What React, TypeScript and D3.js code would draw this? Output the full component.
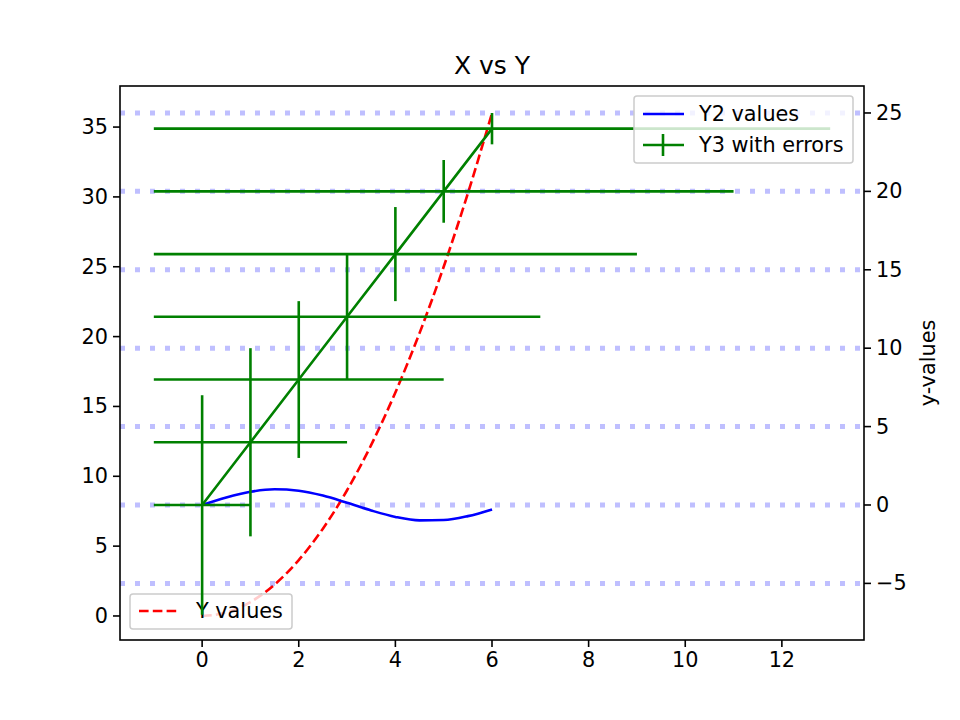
import * as React from 'react'
import * as d3 from 'd3'

// red dashed, left axis
const yX = [0, 0.5, 1, 1.5, 2, 2.5, 3, 3.5, 4, 4.5, 5, 5.5, 6]
const yVals = [0, 0.25, 1, 2.25, 4, 6.25, 9, 12.25, 16, 20.25, 25, 30.25, 36]
// blue, right axis
const y2X = [0, 0.5, 1, 1.5, 2, 2.5, 3, 3.5, 4, 4.5, 5, 5.5, 6]
const y2Vals = [0, 0.48, 0.84, 1.0, 0.91, 0.6, 0.14, -0.35, -0.76, -0.98, -0.96, -0.71, -0.28]
// green with errors, right axis
const y3X = [0, 1, 2, 3, 4, 5, 6]
const y3Vals = [0, 4, 8, 12, 16, 20, 24]
const y3Err = [7, 6, 5, 4, 3, 2, 1]
const x3Err = [1, 2, 3, 4, 5, 6, 7]

const xTicks = [0, 2, 4, 6, 8, 10, 12]
const yTicks = [0, 5, 10, 15, 20, 25, 30, 35]
const y2Ticks = [-5, 0, 5, 10, 15, 20, 25]

const L = 120, R = 864, T = 86, B = 640
const font = 'DejaVu Sans, sans-serif'
const fs = 20.8
const lw = 2.6

export default function App() {
  const x = d3.scaleLinear().domain([-1.7, 13.7]).range([L, R])
  const y = d3.scaleLinear().domain([-1.72, 37.94]).range([B, T])
  const y2 = d3.scaleLinear().domain([-8.61, 26.72]).range([B, T])
  const redLine = d3.line<number>().x((_, i) => x(yX[i])).y(d => y(d)).curve(d3.curveMonotoneX)
  const blueLine = d3.line<number>().x((_, i) => x(y2X[i])).y(d => y2(d)).curve(d3.curveMonotoneX)
  const greenLine = d3.line<number>().x((_, i) => x(y3X[i])).y(d => y2(d))
  const green = '#008000'
  return (
    <svg width={960} height={720} style={{ display: 'block', margin: -8 }} fontFamily={font}>
      <rect width={960} height={720} fill="#fff" />
      <path d={redLine(yVals)!} fill="none" stroke="red" strokeWidth={lw} strokeDasharray="9.6,4.2" />
      {/* lower-left legend (ax1) */}
      <g>
        <rect x={130} y={594} width={162} height={35} rx={3} fill="#fff" fillOpacity={0.8} stroke="#ccc" strokeWidth={1.5} />
        <line x1={139} x2={180} y1={611} y2={611} stroke="red" strokeWidth={lw} strokeDasharray="9.6,4.2" />
        <text x={196} y={618} fontSize={fs}>Y values</text>
      </g>
      {/* right-axis grid */}
      {y2Ticks.map(t => (
        <line key={t} x1={L} x2={R} y1={y2(t)} y2={y2(t)} stroke="blue" strokeOpacity={0.25} strokeWidth={5} strokeDasharray="5,10" />
      ))}
      <path d={blueLine(y2Vals)!} fill="none" stroke="blue" strokeWidth={lw} />
      {y3X.map((v, i) => (
        <g key={i} stroke={green} strokeWidth={lw}>
          <line x1={x(v - x3Err[i])} x2={x(v + x3Err[i])} y1={y2(y3Vals[i])} y2={y2(y3Vals[i])} />
          <line x1={x(v)} x2={x(v)} y1={y2(y3Vals[i] - y3Err[i])} y2={y2(y3Vals[i] + y3Err[i])} />
        </g>
      ))}
      <path d={greenLine(y3Vals)!} fill="none" stroke={green} strokeWidth={lw} />
      {/* frame */}
      <rect x={L} y={T} width={R - L} height={B - T} fill="none" stroke="#000" strokeWidth={1.6} />
      {xTicks.map(t => (
        <g key={t}>
          <line x1={x(t)} x2={x(t)} y1={B} y2={B + 7} stroke="#000" strokeWidth={1.6} />
          <text x={x(t)} y={B + 27} fontSize={fs} textAnchor="middle">{t}</text>
        </g>
      ))}
      {yTicks.map(t => (
        <g key={t}>
          <line x1={L - 7} x2={L} y1={y(t)} y2={y(t)} stroke="#000" strokeWidth={1.6} />
          <text x={L - 12} y={y(t) + 7} fontSize={fs} textAnchor="end">{t}</text>
        </g>
      ))}
      {y2Ticks.map(t => (
        <g key={t}>
          <line x1={R} x2={R + 7} y1={y2(t)} y2={y2(t)} stroke="#000" strokeWidth={1.6} />
          <text x={R + 12} y={y2(t) + 7} fontSize={fs}>{t < 0 ? '\u2212' + -t : t}</text>
        </g>
      ))}
      <text x={935} y={363} fontSize={fs} textAnchor="middle" transform="rotate(-90 935 363)">y-values</text>
      <text x={492} y={74} fontSize={25} textAnchor="middle">X vs Y</text>
      {/* upper-right legend (ax2) */}
      <g>
        <rect x={634} y={96} width={219} height={67} rx={3} fill="#fff" fillOpacity={0.8} stroke="#ccc" strokeWidth={1.5} />
        <line x1={643} x2={684} y1={114} y2={114} stroke="blue" strokeWidth={lw} />
        <text x={699} y={121} fontSize={fs}>Y2 values</text>
        <line x1={643} x2={684} y1={145} y2={145} stroke={green} strokeWidth={lw} />
        <line x1={663} x2={663} y1={134} y2={156} stroke={green} strokeWidth={lw} />
        <text x={699} y={152} fontSize={fs}>Y3 with errors</text>
      </g>
    </svg>
  )
}
